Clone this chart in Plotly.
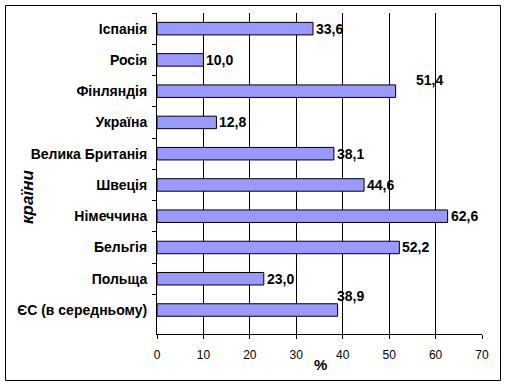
import plotly.graph_objects as go

countries = ["Іспанія", "Росія", "Фінляндія", "Україна", "Велика Британія",
             "Швеція", "Німеччина", "Бельгія", "Польща", "ЄС (в середньому)"]
values = [33.6, 10.0, 51.4, 12.8, 38.1, 44.6, 62.6, 52.2, 23.0, 38.9]
x_ticks = [0, 10, 20, 30, 40, 50, 60, 70]

# per-label offsets (pixels) for labels displaced in the original
label_shift = {"Фінляндія": (18, 11), "ЄС (в середньому)": (-3, 14)}

FONT = "Liberation Sans, Arial, sans-serif"
W, H = 507, 385
L, R, T, B = 157, 25, 13, 51
pw, ph = W - L - R, H - T - B

def px_x(px):
    return (px - L) / pw

def px_y(py):
    return (H - B - py) / ph

fig = go.Figure(go.Bar(
    x=values, y=countries, orientation="h", width=0.4,
    marker=dict(color="#9999FF", line=dict(color="black", width=1)),
    hoverinfo="skip",
))

ann = []
for c, v in zip(countries, values):
    dx, dy = label_shift.get(c, (1, 0))
    ann.append(dict(x=v, y=c, xref="x", yref="y", text=f"{v:.1f}".replace(".", ","),
                    showarrow=False, xanchor="left", yanchor="middle",
                    xshift=dx, yshift=dy,
                    font=dict(family=FONT, size=14, color="black", weight="bold")))
ann.append(dict(x=px_x(27), y=px_y(197), xref="paper", yref="paper", text="<b><i>країни</i></b>",
                showarrow=False, textangle=-90, xanchor="center", yanchor="middle",
                font=dict(family=FONT, size=17, color="black")))
ann.append(dict(x=px_x(320), y=px_y(365), xref="paper", yref="paper", text="<b>%</b>",
                showarrow=False, xanchor="center", yanchor="middle",
                font=dict(family=FONT, size=15, color="black")))

fig.update_layout(
    width=W, height=H, margin=dict(l=L, r=R, t=T, b=B, autoexpand=False),
    paper_bgcolor="white", plot_bgcolor="white", showlegend=False,
    annotations=ann,
    shapes=[dict(type="rect", xref="paper", yref="paper", layer="above",
                 x0=px_x(5.5), x1=px_x(500.5), y0=px_y(380.5), y1=px_y(5.5),
                 line=dict(color="black", width=1))],
    xaxis=dict(range=[0, 70], tickvals=x_ticks, showgrid=True, gridcolor="black", gridwidth=1,
               zeroline=False, showline=True, linecolor="black", linewidth=1,
               ticks="outside", ticklen=4, tickcolor="black",
               tickfont=dict(family=FONT, size=12, color="black"), ticklabelstandoff=6),
    yaxis=dict(autorange="reversed", type="category", tickson="boundaries",
               showline=True, linecolor="black", linewidth=1, showgrid=False,
               ticks="outside", ticklen=4, tickcolor="black", ticklabelstandoff=6,
               tickfont=dict(family=FONT, size=14, color="black", weight="bold")),
)

fig.write_html("out.html", config={"displayModeBar": False},
               post_script="document.body.style.margin='0';document.body.style.padding='0';")
